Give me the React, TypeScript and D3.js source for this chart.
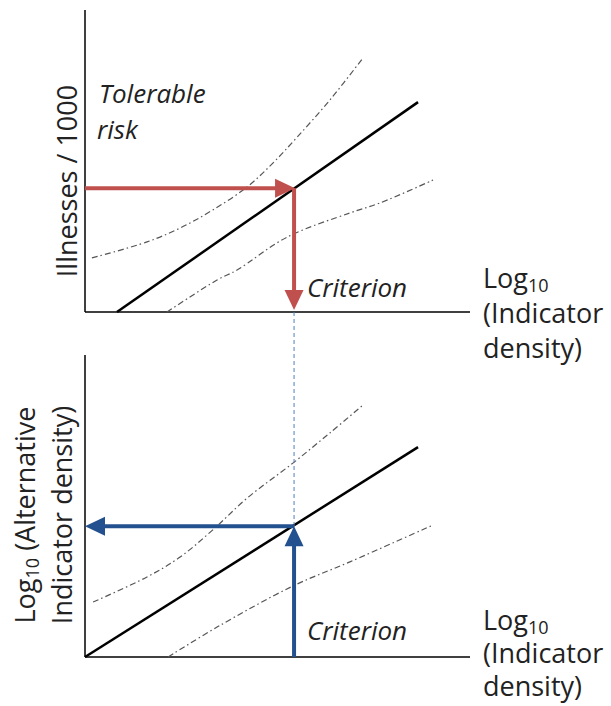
import React from "react";
import * as d3 from "d3";

// ---- data (abstract log units, 0..10 on each axis) ----
const topSolid: [number, number][] = [[0.83, 0], [8.65, 6.95]];
const topUpper: [number, number][] = [
  [0.18, 1.79], [1.61, 2.32], [2.47, 2.78], [3.32, 3.38], [4.21, 4.14],
  [4.88, 4.93], [5.51, 5.79], [6.36, 7.02], [7.22, 8.41],
];
const topLower: [number, number][] = [
  [2.13, 0], [3.43, 1.06], [3.95, 1.39], [5.25, 2.48], [6.88, 3.28],
  [7.66, 3.61], [9.04, 4.37],
];
const botSolid: [number, number][] = [[0, 0], [8.65, 6.95]];
const botUpper: [number, number][] = [
  [0.21, 1.82], [1.61, 2.65], [2.47, 3.31], [3.32, 4.21], [4.21, 5.26],
  [5.4, 6.42], [6.36, 7.42], [7.19, 8.31],
];
const botLower: [number, number][] = [
  [2.16, 0], [3.43, 0.99], [5.4, 2.35], [6.88, 3.15], [9.04, 4.37],
];
const criterionX = [5.43];
const tolerableRisk = [4.1];
const alternativeCriterion = [4.33];

const RED = "#c0504d";
const BLUE = "#23508f";
const LIGHTBLUE = "#4f81bd";
const CURVE = "#555555";
const FONT = "'Open Sans', sans-serif";

const x = d3.scaleLinear().domain([0, 10]).range([85, 470]);
const yTop = d3.scaleLinear().domain([0, 10]).range([312, 10]);
const yBot = d3.scaleLinear().domain([0, 10]).range([657, 355]);

function Panel({ y, solid, upper, lower }: any) {
  const straight = d3.line<[number, number]>().x((d) => x(d[0])).y((d) => y(d[1]));
  const curve = d3
    .line<[number, number]>()
    .x((d) => x(d[0]))
    .y((d) => y(d[1]))
    .curve(d3.curveCatmullRom.alpha(0.5));
  return (
    <g>
      <line x1={x(0)} x2={x(0)} y1={y(10)} y2={y(0)} stroke="#000" strokeWidth={1.5} />
      <line x1={x(0)} x2={x(10)} y1={y(0)} y2={y(0)} stroke="#000" strokeWidth={1.5} />
      <path d={curve(upper) || ""} fill="none" stroke={CURVE} strokeWidth={1.2} strokeDasharray="6,3,1.5,3" />
      <path d={curve(lower) || ""} fill="none" stroke={CURVE} strokeWidth={1.2} strokeDasharray="6,3,1.5,3" />
      <path d={straight(solid) || ""} fill="none" stroke="#000" strokeWidth={2.5} />
    </g>
  );
}

function AxisLabel({ x0, y0, gap }: { x0: number; y0: number; gap: number }) {
  return (
    <g fontFamily={FONT} fontSize={27} fill="#222">
      <text x={x0} y={y0}>
        Log<tspan fontSize={18} dy={4}>10</tspan>
      </text>
      <text x={x0} y={y0 + gap}>(Indicator</text>
      <text x={x0} y={y0 + 2 * gap}>density)</text>
    </g>
  );
}

export default function App() {
  const cx = x(criterionX[0]);
  const ry = yTop(tolerableRisk[0]);
  const by = yBot(alternativeCriterion[0]);
  const ah = 20; // arrowhead length
  const aw = 9.5; // arrowhead half width
  return (
    <svg width={611} height={706} style={{ position: "absolute", left: 0, top: 0, background: "#fff" }}>
      <rect width={611} height={706} fill="#fff" />
      <Panel y={yTop} solid={topSolid} upper={topUpper} lower={topLower} />
      <Panel y={yBot} solid={botSolid} upper={botUpper} lower={botLower} />

      {/* dashed connector */}
      <line x1={cx} x2={cx} y1={yTop(0)} y2={by} stroke={LIGHTBLUE} strokeWidth={1} strokeDasharray="4,3" />

      {/* red arrows */}
      <line x1={x(0)} x2={cx - ah + 2} y1={ry} y2={ry} stroke={RED} strokeWidth={4} />
      <path d={`M${cx + 1},${ry} L${cx - ah + 1},${ry - aw} L${cx - ah + 1},${ry + aw} Z`} fill={RED} />
      <line x1={cx} x2={cx} y1={ry} y2={yTop(0) - ah} stroke={RED} strokeWidth={4} />
      <path d={`M${cx},${yTop(0) - 2} L${cx - aw},${yTop(0) - 2 - ah} L${cx + aw},${yTop(0) - 2 - ah} Z`} fill={RED} />

      {/* blue arrows */}
      <line x1={cx} x2={x(0) + ah - 2} y1={by} y2={by} stroke={BLUE} strokeWidth={4} />
      <path d={`M${x(0)},${by} L${x(0) + ah},${by - aw} L${x(0) + ah},${by + aw} Z`} fill={BLUE} />
      <line x1={cx} x2={cx} y1={yBot(0)} y2={by + ah - 2} stroke={BLUE} strokeWidth={4} />
      <path d={`M${cx},${by} L${cx - aw},${by + ah} L${cx + aw},${by + ah} Z`} fill={BLUE} />

      {/* texts */}
      <g fontFamily={FONT} fontSize={26} fontStyle="italic" fill="#222">
        <text x={99} y={103}>Tolerable</text>
        <text x={97} y={139}>risk</text>
        <text x={307} y={297}>Criterion</text>
        <text x={307} y={640}>Criterion</text>
      </g>
      <g fontFamily={FONT} fontSize={27} fill="#222">
        <text transform="translate(77,181) rotate(-90)" textAnchor="middle">Illnesses / 1000</text>
        <text transform="translate(35,515) rotate(-90)" textAnchor="middle">
          Log<tspan fontSize={18} dy={4}>10</tspan><tspan dy={-4}> (Alternative</tspan>
        </text>
        <text transform="translate(72,515) rotate(-90)" textAnchor="middle">Indicator density)</text>
      </g>
      <AxisLabel x0={483} y0={288} gap={35} />
      <AxisLabel x0={483} y0={630} gap={33} />
    </svg>
  );
}
